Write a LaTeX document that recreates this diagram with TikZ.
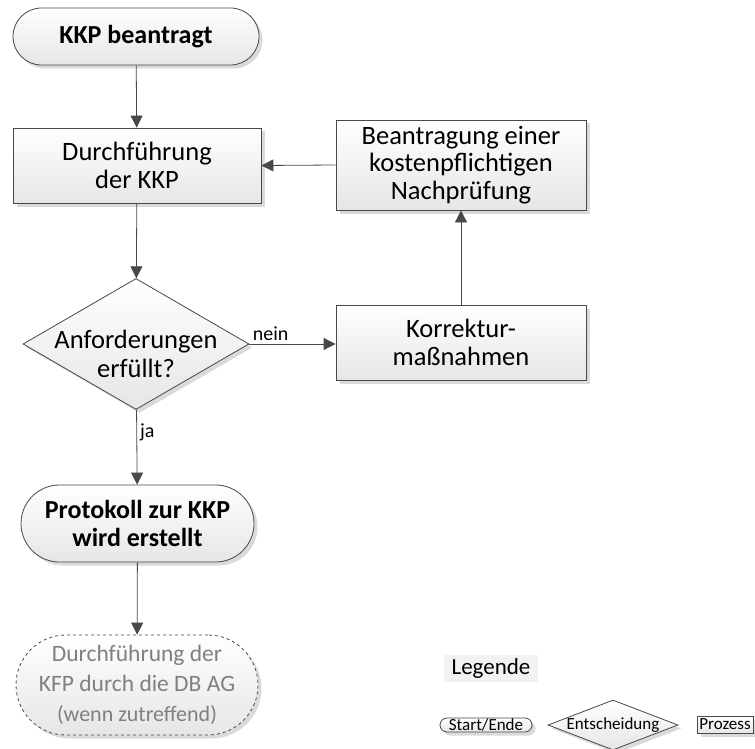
\documentclass[tikz,border=0pt]{standalone}
\usepackage{fontspec}
\setmainfont{Carlito}
\usepackage{tikz}
\usetikzlibrary{shapes.geometric, arrows.meta, shadows}
\definecolor{linegray}{HTML}{484848}
\definecolor{fillgray}{HTML}{E6E6E6}
\definecolor{shadowgray}{HTML}{DADADA}
\definecolor{textgray}{HTML}{808080}
\tikzset{
    normal/.style={draw=linegray, line width=0.8pt},
    body/.style={style=normal, top color=white, bottom color=fillgray, drop shadow={shadow xshift=3.5pt, shadow yshift=-3.5pt, fill=shadowgray, opacity=1}},
    term/.style={style=body, rectangle, rounded corners=#1, inner sep=0pt, align=center, font=\fontsize{26}{28}\selectfont\bfseries}, % start and end
    proc/.style={style=body, rectangle, inner sep=0pt, align=center, font=\fontsize{26.5}{27.5}\selectfont}, % process steps
    dec/.style={style=body, diamond, inner sep=0pt}, % decision, text goes in the label
    e/.style={style=normal, -{Triangle[length=12pt, width=12pt]}},
    lbl/.style={font=\fontsize{20}{22}\selectfont, inner sep=3pt} % edge labels
}
\tikzstyle{legend}=[font=\fontsize{17}{18}\selectfont]

\begin{document}
\begin{tikzpicture}[x=1pt, y=-1pt]
          \useasboundingbox (0,0) rectangle (755,749);
          \node[term=28.5pt, minimum width=246pt, minimum height=57pt] (start) at (136, 36.5) {KKP beantragt};
          \node[proc, minimum width=248pt, minimum height=75pt] (exec) at (137, 165.5) {Durchführung\\der KKP};
          \node[proc, minimum width=250pt, minimum height=90pt] (request) at (461, 165) {Beantragung einer\\kostenpflichtigen\\Nachprüfung};
          \node[dec, minimum width=226pt, minimum height=131pt,
                label={[align=center, yshift=-10pt, font=\fontsize{26.5}{29}\selectfont]center:Anforderungen\\erfüllt?}] (check) at (136, 344) {};
          \node[proc, minimum width=250pt, minimum height=75pt] (fix) at (461, 342.5) {Korrektur-\\maßnahmen};
          \node[term=38.5pt, minimum width=233pt, minimum height=77pt] (report) at (137.5, 523.5) {Protokoll zur KKP\\wird erstellt};
          \node[term=50pt, minimum width=242pt, minimum height=100pt, dashed, text=textgray,
                font=\fontsize{23.5}{30}\selectfont] (dbag) at (137, 685) {Durchführung der\\KFP durch die DB AG\\{\fontsize{22}{30}\selectfont(wenn zutreffend)}};

          % legend
          \node[fill=black!5, minimum width=94pt, minimum height=27pt, inner sep=0pt, font=\fontsize{23}{25}\selectfont] (legtitle) at (491, 668.5) {Legende};
          \node[term=7pt, legend, minimum width=92pt, minimum height=14pt] (legterm) at (486, 725) {Start/Ende};
          \node[dec, minimum width=130pt, minimum height=50pt, label={[legend]center:Entscheidung}] (legdec) at (613, 725) {};
          \node[proc, legend, minimum width=56pt, minimum height=17pt] (legproc) at (725, 724.5) {Prozess};

          \draw[e] (start) to (exec);
          \draw[e] (exec) to (check);
          \draw[e] (check.east) to node[lbl, above right, pos=0] {nein} (check.east -| fix.west);
          \draw[e] (fix) to (request);
          \draw[e] (request.west) to (exec.east);
          \draw[e] (check) to node[lbl, right, pos=0.3] {ja} (report);
          \draw[e] (report) to (dbag);
        \end{tikzpicture}
\end{document}
